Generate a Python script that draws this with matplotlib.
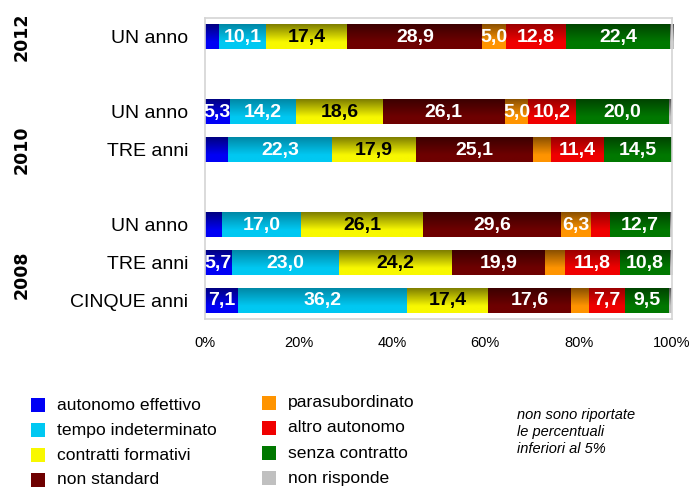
import numpy as np
import matplotlib
matplotlib.use("Agg")
import matplotlib.pyplot as plt
from matplotlib.colors import to_rgb
from matplotlib.patches import Rectangle
import matplotlib.transforms as mtrans

# ---------------- data ----------------
years = ["2012", "2010", "2008"]
categories = ["UN anno", "UN anno", "TRE anni", "UN anno", "TRE anni", "CINQUE anni"]
series = ["autonomo effettivo", "tempo indeterminato", "contratti formativi", "non standard",
          "parasubordinato", "altro autonomo", "senza contratto", "non risponde"]
autonomo_effettivo = [3.0, 5.3, 4.9, 3.6, 5.7, 7.1]
tempo_indeterminato = [10.1, 14.2, 22.3, 17.0, 23.0, 36.2]
contratti_formativi = [17.4, 18.6, 17.9, 26.1, 24.2, 17.4]
non_standard = [28.9, 26.1, 25.1, 29.6, 19.9, 17.6]
parasubordinato = [5.0, 5.0, 3.9, 6.3, 4.2, 3.9]
altro_autonomo = [12.8, 10.2, 11.4, 4.2, 11.8, 7.7]
senza_contratto = [22.4, 20.0, 14.5, 12.7, 10.8, 9.5]
non_risponde = [0.7, 0.6, 0.0, 0.3, 0.6, 0.6]
xticks = [0, 20, 40, 60, 80, 100]
xticklabels = ["0%", "20%", "40%", "60%", "80%", "100%"]
note = "non sono riportate\nle percentuali\ninferiori al 5%"

values = [autonomo_effettivo, tempo_indeterminato, contratti_formativi, non_standard,
          parasubordinato, altro_autonomo, senza_contratto, non_risponde]

# ---------------- style ----------------
plt.rcParams['font.family'] = ["Liberation Sans", 'DejaVu Sans']

base_colors = ["#0000f5", "#00c8f2", "#f8f800", "#6e0000",
               "#ff9400", "#f00000", "#007800", "#c0c0c0"]
top_colors = ["#000080", "#0088a6", "#7e7e00", "#3c0000",
              "#8a5000", "#9a0000", "#004400", "#555555"]
text_colors = ["white", "white", "black", "white", "white", "white", "white", "white"]

slots = [0, 2, 3, 5, 6, 7]
year_slots = [0, 3, 6.33]

fig = plt.figure(figsize=(6.9, 4.87), dpi=100)
ax = fig.add_axes([205 / 690, 1 - 319 / 487, 467 / 690, (319 - 17.5) / 487])

bar_h = 0.66
left = np.zeros(len(categories))
for i, (name, vals) in enumerate(zip(series, values)):
    vals = np.array(vals)
    bars = ax.barh(slots, vals, left=left, height=bar_h, color=base_colors[i],
                   edgecolor="none", label=name)
    # vertical gradient (dark top -> bright bottom), clipped to each bar
    n = 64
    t = np.linspace(0, 1, n)
    frac = np.clip(t / 0.72, 0, 1)[:, None]
    c0 = np.array(to_rgb(top_colors[i]))
    c1 = np.array(to_rgb(base_colors[i]))
    grad = (c0 * (1 - frac) + c1 * frac)[:, None, :]
    for b in bars:
        if b.get_width() <= 0:
            continue
        x0, y0, w, h = b.get_x(), b.get_y(), b.get_width(), b.get_height()
        im = ax.imshow(grad, extent=(x0, x0 + w, y0 + h, y0), aspect='auto',
                       interpolation='bilinear', zorder=2)
        im.set_clip_path(b)
    for b, v in zip(bars, vals):
        if v >= 5 and i < 7:
            ax.text(b.get_x() + b.get_width() / 2, b.get_y() + b.get_height() / 2 + 0.02,
                    f"{v:.1f}".replace(".", ","), ha="center", va="center",
                    color=text_colors[i], fontsize=14, fontweight="bold",
                    zorder=5, clip_on=True)
    left = left + vals

ax.set_xlim(0, 100)
ax.set_ylim(7.5, -0.5)
ax.set_xticks(xticks)
ax.set_xticklabels(xticklabels, fontsize=10.5)
ax.set_yticks(slots)
ax.set_yticklabels(categories, fontsize=14)
ax.tick_params(axis="both", length=0)
ax.tick_params(axis="y", pad=12)
ax.tick_params(axis="x", pad=12)
for s in ax.spines.values():
    s.set_color("#d4d4d4")
    s.set_linewidth(1.2)

trans = mtrans.blended_transform_factory(fig.transFigure, ax.transData)
for yr, ys in zip(years, year_slots):
    ax.text(22 / 690, ys, yr, transform=trans, rotation=90, ha="center", va="center",
            fontsize=12.5, fontweight="bold", family=["DejaVu Sans"], clip_on=False)

# ---------------- legend ----------------
H = 487.0
leg_pos = [(31, 405), (31, 430), (31, 455), (31, 480),
           (262, 403), (262, 428), (262, 453), (262, 478)]
for i, (name, (px, py)) in enumerate(zip(series, leg_pos)):
    fig.patches.append(Rectangle((px / 690, 1 - (py + 7) / H), 14 / 690, 14 / H,
                                 transform=fig.transFigure, facecolor=base_colors[i],
                                 edgecolor="none"))
    fig.text((px + 26) / 690, 1 - py / H, name, ha="left", va="center", fontsize=12.6)

fig.text(517 / 690, 1 - 432 / H, note, ha="left", va="center", fontsize=10.5,
         style="italic", linespacing=1.3)

fig.savefig("out.png", dpi=100)
